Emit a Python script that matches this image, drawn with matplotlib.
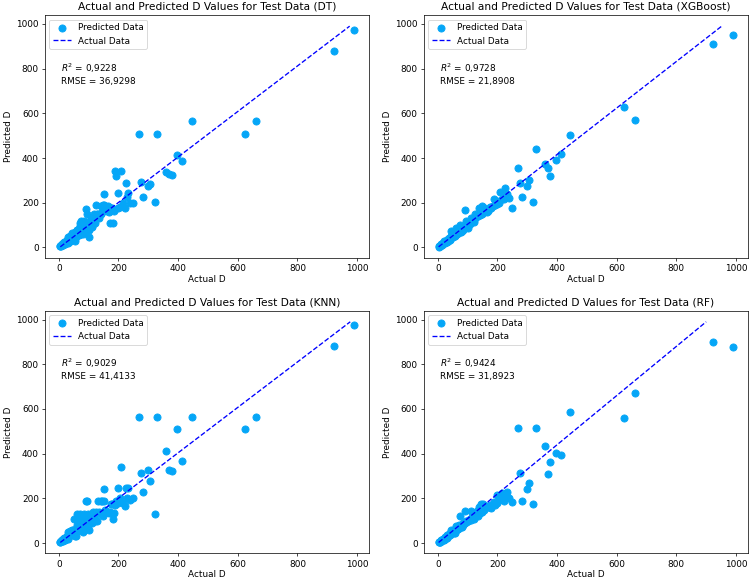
import numpy as np
import matplotlib.pyplot as plt


###############################################################################
filename = 'out.png'
point_color = '#05a6f7'

titles = ['DT', 'XGBoost', 'KNN', 'RF']
r2_text = ['0,9228', '0,9728', '0,9029', '0,9424']
rmse_text = ['36,9298', '21,8908', '41,4133', '31,8923']

# actual D of the test set (shared by all four models)
actual = [990, 922, 660, 625, 445, 413, 397, 378, 369, 360,
          330, 321, 307, 300, 282, 276, 268, 250, 240, 232,
          228, 224, 222, 210, 200, 198, 189, 192, 180, 172,
          165, 153, 150, 140, 133, 125, 120, 110, 100, 95,
          90, 85, 80, 75, 70, 67, 65, 60, 58, 55,
          52, 50, 48, 45, 42, 40, 38, 35, 32, 30,
          28, 25, 22, 20, 18, 15, 12, 10, 8, 5,
          105, 115, 128, 145, 160, 175, 185, 205, 215, 62,
          72, 78, 88, 98, 44, 36, 26, 14, 6, 3,
          12, 18, 24, 30, 34, 38, 42, 46, 50, 54,
          58, 62, 66, 70, 74, 82, 86, 92, 96, 102,
          108, 112, 118, 122, 135, 142, 148, 155, 168, 178]

pred_dt = [975, 877, 565, 508, 565, 388, 415, 325, 328, 337,
           508, 202, 285, 277, 225, 295, 508, 201, 201, 243,
           225, 289, 175, 342, 244, 177, 342, 318, 108, 108,
           185, 240, 190, 187, 150, 190, 130, 95, 45, 150,
           172, 100, 60, 120, 110, 72, 70, 80, 50, 30,
           62, 55, 40, 65, 50, 45, 38, 30, 40, 22,
           28, 20, 25, 15, 22, 12, 15, 10, 8, 5,
           115, 120, 150, 160, 165, 175, 165, 180, 200, 70,
           90, 65, 110, 85, 55, 30, 35, 18, 10, 5,
           10, 25, 18, 45, 25, 50, 35, 60, 40, 70,
           45, 80, 55, 95, 60, 70, 120, 75, 110, 80,
           130, 90, 150, 110, 130, 150, 190, 170, 160, 175]

pred_xgb = [952, 910, 570, 630, 502, 417, 390, 320, 355, 375,
            442, 205, 304, 274, 225, 288, 355, 177, 220, 240,
            230, 265, 215, 250, 210, 195, 215, 190, 175, 170,
            160, 180, 185, 175, 140, 150, 115, 130, 85, 120,
            169, 90, 75, 100, 85, 65, 65, 85, 50, 50,
            70, 70, 45, 75, 40, 35, 40, 30, 35, 25,
            30, 20, 28, 18, 20, 12, 14, 10, 8, 5,
            110, 125, 135, 150, 165, 180, 185, 200, 215, 60,
            80, 70, 95, 100, 45, 40, 25, 15, 8, 3,
            12, 20, 25, 32, 30, 42, 40, 50, 48, 58,
            55, 65, 62, 72, 70, 85, 80, 95, 90, 105,
            105, 115, 118, 125, 140, 145, 150, 160, 165, 180]

pred_knn = [977, 880, 565, 509, 565, 369, 512, 324, 327, 414,
            565, 132, 279, 327, 228, 312, 565, 200, 195, 248,
            200, 245, 165, 342, 248, 180, 170, 190, 108, 140,
            140, 242, 190, 190, 190, 140, 100, 130, 60, 190,
            190, 130, 50, 90, 130, 60, 60, 130, 30, 30,
            110, 50, 40, 50, 55, 45, 35, 30, 35, 20,
            25, 20, 22, 15, 18, 10, 12, 10, 8, 5,
            125, 140, 100, 190, 140, 175, 135, 200, 180, 70,
            100, 70, 110, 130, 60, 40, 30, 20, 10, 5,
            15, 25, 20, 50, 30, 55, 35, 60, 45, 50,
            65, 80, 60, 110, 80, 90, 60, 100, 75, 85,
            120, 90, 130, 110, 140, 130, 120, 150, 135, 175]

pred_rf = [877, 900, 670, 559, 588, 393, 403, 363, 310, 433,
           516, 174, 270, 243, 190, 313, 516, 183, 200, 230,
           215, 210, 190, 200, 215, 180, 185, 170, 155, 160,
           165, 175, 170, 160, 145, 130, 110, 145, 100, 95,
           145, 80, 70, 123, 80, 65, 65, 75, 45, 45,
           55, 55, 45, 60, 40, 35, 35, 30, 30, 25,
           25, 20, 20, 15, 15, 12, 10, 8, 6, 4,
           105, 115, 125, 175, 165, 170, 175, 195, 225, 60,
           75, 70, 90, 100, 45, 35, 25, 14, 6, 3,
           12, 20, 26, 35, 33, 40, 45, 50, 50, 55,
           62, 60, 70, 68, 78, 80, 88, 90, 100, 100,
           110, 105, 115, 125, 120, 135, 140, 150, 160, 165]

predictions = [pred_dt, pred_xgb, pred_knn, pred_rf]
###############################################################################


fig, axes = plt.subplots(2, 2, figsize=(750/64, 582/64), dpi=64)
plt.subplots_adjust(left=0.06, right=0.997, top=0.974, bottom=0.049,
                    wspace=0.17, hspace=0.218)

for ax, name, pred, r2, rmse in zip(axes.flat, titles, predictions,
                                     r2_text, rmse_text):
    y_test = np.array(actual)
    y_pred = np.array(pred)
    ax.scatter(y_test, y_pred, color=point_color, s=64, label='Predicted Data')
    ax.plot([y_pred.min(), y_pred.max()], [y_test.min(), y_test.max()],
            'b--', label='Actual Data')
    ax.set_title('Actual and Predicted D Values for Test Data (' + name + ')')
    ax.set_xlabel('Actual D', labelpad=2)
    ax.set_ylabel('Predicted D')
    ax.set_xticks([0, 200, 400, 600, 800, 1000])
    ax.set_yticks([0, 200, 400, 600, 800, 1000])
    ax.legend(loc='upper left')
    ax.text(0.05, 0.81, '$R^2$ = ' + r2 + '\nRMSE = ' + rmse,
            transform=ax.transAxes, va='top', ha='left', linespacing=1.3)

plt.savefig(filename, dpi=64)
plt.close()
